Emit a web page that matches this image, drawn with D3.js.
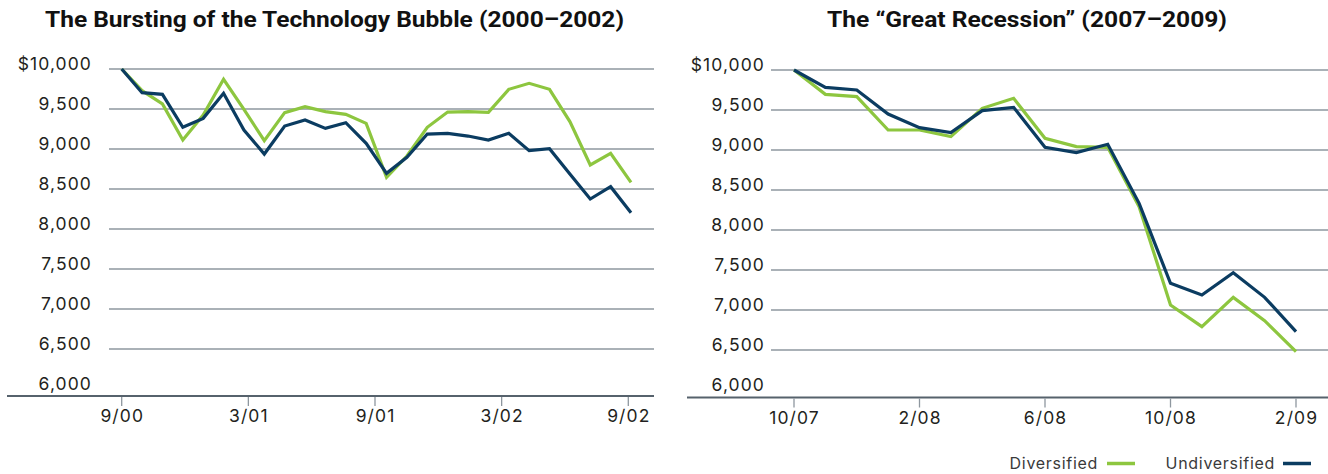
<!DOCTYPE html>
<html>
<head>
<meta charset="utf-8">
<script src="https://cdn.jsdelivr.net/npm/d3@7"></script>
<style>
  body { margin: 0; background: #fff; }
  svg { display: block; }
</style>
</head>
<body>
<svg id="chart" width="1328" height="474"></svg>
<script>
// values, growth of $10,000
const yTicks = [10000, 9500, 9000, 8500, 8000, 7500, 7000, 6500, 6000]

// 2000-2002, monthly
const techTicks = ['9/00', '3/01', '9/01', '3/02', '9/02']
const techDiversified = [
  10000, 9729, 9563, 9112, 9425, 9871, 9496, 9104, 9454, 9529, 9467, 9433, 9321,
  8646, 8912, 9271, 9462, 9467, 9458, 9746, 9821, 9746, 9342, 8800, 8946, 8583,
]
const techUndiversified = [
  10000, 9704, 9683, 9271, 9383, 9696, 9237, 8937, 9287, 9362, 9258, 9329, 9071,
  8696, 8896, 9187, 9196, 9162, 9112, 9196, 8979, 9004, 8687, 8375, 8529, 8204,
]

// 2007-2009, monthly
const recTicks = ['10/07', '2/08', '6/08', '10/08', '2/09']
const recDiversified = [
  10000, 9696, 9667, 9250, 9250, 9167, 9521, 9646, 9146, 9042, 9033, 8292, 7063,
  6792, 7158, 6867, 6479,
]
const recUndiversified = [
  10000, 9783, 9750, 9450, 9279, 9217, 9492, 9533, 9033, 8967, 9071, 8333, 7333,
  7188, 7467, 7158, 6729,
]

const seriesNames = ['Diversified', 'Undiversified']
const colors = { Diversified: '#8dc63f', Undiversified: '#0b3c61' }

const textColor = '#231f20'
const gridColor = '#8e979f'
const axisColor = '#56626c'
const tickFont = 'Inter, "DejaVu Sans", sans-serif'

const svg = d3.select('#chart')

function drawPanel(opts) {
  const {
    title,
    titleX,
    titleWidth,
    ticks,
    diversified,
    undiversified,
    dataRange,
    tickRange,
    gridRange,
    axisRange,
    axisY,
    yRange,
    labelX,
  } = opts

  const g = svg.append('g')

  const x = d3
    .scaleLinear()
    .domain([0, diversified.length - 1])
    .range(dataRange)

  const xTick = d3.scalePoint().domain(ticks).range(tickRange)

  const y = d3.scaleLinear().domain([6000, 10000]).range(yRange)

  // title
  g.append('text')
    .attr('x', titleX)
    .attr('y', 27)
    .attr('text-anchor', 'middle')
    .attr('font-family', 'Roboto, "Liberation Sans", sans-serif')
    .attr('font-weight', 700)
    .attr('font-size', 22)
    .attr('fill', '#111')
    .attr('textLength', titleWidth)
    .attr('lengthAdjust', 'spacingAndGlyphs')
    .text(title)

  // gridlines
  g.append('g')
    .selectAll('line')
    .data(yTicks.filter((d) => d > 6000))
    .join('line')
    .attr('x1', gridRange[0])
    .attr('x2', gridRange[1])
    .attr('y1', (d) => y(d))
    .attr('y2', (d) => y(d))
    .attr('stroke', gridColor)
    .attr('stroke-width', 1.5)

  // y labels
  g.append('g')
    .selectAll('text')
    .data(yTicks)
    .join('text')
    .attr('x', labelX + 1)
    .attr('y', (d) => y(d) + 0.5)
    .attr('text-anchor', 'end')
    .attr('font-family', tickFont)
    .attr('font-size', 17.5)
    .attr('letter-spacing', 1.1)
    .attr('fill', textColor)
    .text((d) => (d === 10000 ? '$' : '') + d3.format(',')(d))

  // x axis line
  g.append('line')
    .attr('x1', axisRange[0])
    .attr('x2', axisRange[1])
    .attr('y1', axisY)
    .attr('y2', axisY)
    .attr('stroke', axisColor)
    .attr('stroke-width', 2.2)

  // x ticks
  const tk = g
    .append('g')
    .selectAll('g')
    .data(ticks)
    .join('g')
    .attr('transform', (d) => `translate(${xTick(d)},${axisY})`)

  tk.append('line')
    .attr('y1', 1)
    .attr('y2', 10)
    .attr('stroke', gridColor)
    .attr('stroke-width', 1.3)

  tk.append('text')
    .attr('x', 0.5)
    .attr('y', 26)
    .attr('text-anchor', 'middle')
    .attr('font-family', tickFont)
    .attr('font-size', 17.5)
    .attr('letter-spacing', 1.1)
    .attr('fill', textColor)
    .text((d) => d)

  // lines
  const line = d3
    .line()
    .x((d, i) => x(i))
    .y((d) => y(d))

  g.append('g')
    .selectAll('path')
    .data([
      { name: 'Diversified', values: diversified },
      { name: 'Undiversified', values: undiversified },
    ])
    .join('path')
    .attr('d', (d) => line(d.values))
    .attr('fill', 'none')
    .attr('stroke', (d) => colors[d.name])
    .attr('stroke-width', 3.2)
    .attr('stroke-linejoin', 'miter')
}

drawPanel({
  title: 'The Bursting of the Technology Bubble (2000–2002)',
  titleX: 334.5,
  titleWidth: 579,
  ticks: techTicks,
  diversified: techDiversified,
  undiversified: techUndiversified,
  dataRange: [121.7, 631],
  tickRange: [121.7, 628.3],
  gridRange: [109, 654],
  axisRange: [7, 654],
  axisY: 396,
  yRange: [389, 69],
  labelX: 91,
})

drawPanel({
  title: 'The “Great Recession” (2007–2009)',
  titleX: 1027,
  titleWidth: 400,
  ticks: recTicks,
  diversified: recDiversified,
  undiversified: recUndiversified,
  dataRange: [794, 1296],
  tickRange: [794, 1296],
  gridRange: [771, 1328],
  axisRange: [687, 1328],
  axisY: 397.5,
  yRange: [390, 70],
  labelX: 764,
})

// legend
const legend = svg
  .append('g')
  .attr('font-family', tickFont)
  .attr('font-size', 16)
  .attr('letter-spacing', 0.7)
  .attr('fill', '#3a3a3a')

const legendItems = [
  { name: seriesNames[0], textEnd: 1097, lineStart: 1107 },
  { name: seriesNames[1], textEnd: 1274, lineStart: 1283 },
]

legendItems.forEach((d) => {
  legend
    .append('text')
    .attr('x', d.textEnd + 1)
    .attr('y', 469)
    .attr('text-anchor', 'end')
    .text(d.name)
  legend
    .append('line')
    .attr('x1', d.lineStart)
    .attr('x2', d.lineStart + 28)
    .attr('y1', 463.5)
    .attr('y2', 463.5)
    .attr('stroke', colors[d.name])
    .attr('stroke-width', 3.5)
})
</script>
</body>
</html>
